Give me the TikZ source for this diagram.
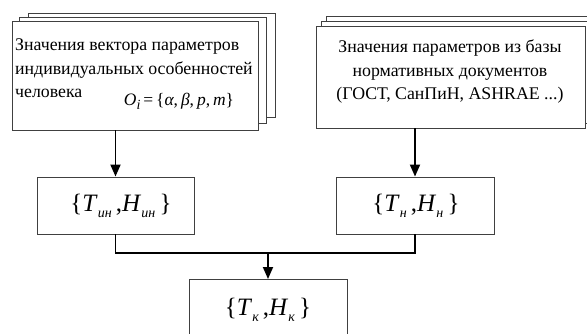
\documentclass[tikz,border=0pt]{standalone}
\usepackage{fontspec}
\setmainfont{Liberation Serif}
\usetikzlibrary{arrows.meta}
\newcommand{\lsub}[1]{\raisebox{-0.5ex}{\fontsize{14}{14}\selectfont\itshape #1}}
\begin{document}
\begin{tikzpicture}[x=1pt,y=-1pt,
  box/.style={draw=black!75,line width=0.9pt,fill=white,inner sep=0pt},
  conn/.style={line width=1.8pt,black},
  arr/.style={conn,-{Triangle[length=12pt,width=10pt]}},
  txt/.style={font=\fontsize{17.8}{23.5}\selectfont,inner sep=0pt,align=left},
  frm/.style={font=\fontsize{25}{30}\selectfont,inner sep=0pt}]
\useasboundingbox (0,0) rectangle (587,333);
% left stack
\node[box,minimum width=247pt,minimum height=104pt] (l3) at (151.5,65) {};
\node[box,minimum width=247pt,minimum height=106pt] (l2) at (143,70) {};
\node[box,minimum width=246pt,minimum height=109pt] (lf) at (135,75.5) {};
\node[txt,anchor=north west] (lt) at (15,39) {Значения вектора параметров\\индивидуальных особенностей\\человека};
\node[inner sep=0pt,font=\fontsize{17.5}{20}\selectfont] (lo) at (179,101) {\textit{O}\lsub{i}\,=\,\{\textit{α},\,\textit{β},\,\textit{p},\,\textit{m}\}};
% right stack
\node[box,minimum width=269pt,minimum height=102pt] (r3) at (460.5,67) {};
\node[box,minimum width=269pt,minimum height=102pt] (r2) at (455.5,72) {};
\node[box,minimum width=269pt,minimum height=102pt] (rf) at (450.5,77) {};
\node[txt,align=center] (rt) at (450,72) {Значения параметров из базы\\нормативных документов\\(ГОСТ, СанПиН, ASHRAE ...)};
% lower boxes
\node[box,minimum width=157pt,minimum height=57pt] (ll) at (115.5,205.5) {};
\node[frm] (llf) at (121,206) {\{\textit{T}\lsub{ин}\,,\textit{H}\lsub{ин}\,\}};
\node[box,minimum width=158pt,minimum height=57pt] (lr) at (415,205.5) {};
\node[frm] (lrf) at (416,206) {\{\textit{T}\lsub{н}\,,\textit{H}\lsub{н}\,\}};
\node[box,minimum width=158pt,minimum height=70pt,anchor=north] (bt) at (268,279) {};
\node[frm] (btf) at (268,310) {\{\textit{T}\lsub{к}\,,\textit{H}\lsub{к}\,\}};
% connectors
\coordinate (mid) at (268,253);
\draw[arr] (ll.north |- lf.south) -- (ll.north);
\draw[arr] (lr.north |- rf.south) -- (lr.north);
\draw[conn] (ll.south) |- (mid) -| (lr.south);
\draw[arr] (mid) -- (bt.north);
\end{tikzpicture}
\end{document}
